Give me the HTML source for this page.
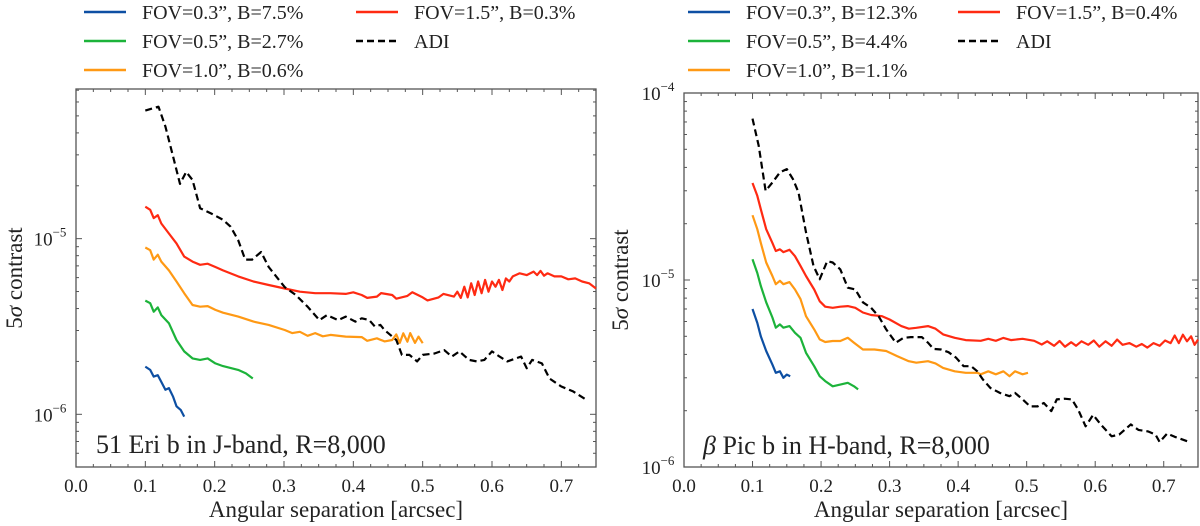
<!DOCTYPE html>
<html><head><meta charset="utf-8"><style>
html,body{margin:0;padding:0;background:#fff;}
svg{display:block;font-family:"Liberation Serif",serif;}
</style></head><body>
<svg id="chart" width="1200" height="526" viewBox="0 0 1200 526" xmlns="http://www.w3.org/2000/svg"></svg>
<script>
// ---- Left panel data (51 Eri b) ----
const L_adiX=[0.100,0.119,0.129,0.140,0.150,0.159,0.168,0.179,0.195,0.212,0.223,0.234,0.244,0.254,0.267,0.278,0.301,0.317,0.334,0.351,0.362,0.378,0.389,0.403,0.412,0.423,0.431,0.439,0.445,0.462,0.470,0.481,0.492,0.500,0.517,0.531,0.542,0.553,0.567,0.578,0.589,0.600,0.611,0.622,0.642,0.650,0.658,0.672,0.683,0.700,0.717,0.736];
const L_adiY=[5.36e-5,5.64e-5,4.35e-5,2.93e-5,2.05e-5,2.40e-5,2.16e-5,1.49e-5,1.39e-5,1.28e-5,1.17e-5,9.8e-6,7.6e-6,7.6e-6,8.4e-6,6.9e-6,5.3e-6,4.78e-6,4.1e-6,3.44e-6,3.67e-6,3.44e-6,3.6e-6,3.37e-6,3.52e-6,3.44e-6,3.16e-6,3.23e-6,3.02e-6,2.65e-6,2.18e-6,2.18e-6,2.0e-6,2.18e-6,2.22e-6,2.32e-6,2.13e-6,2.28e-6,2.04e-6,2.0e-6,2.04e-6,2.28e-6,2.13e-6,2.0e-6,2.13e-6,1.83e-6,2.04e-6,1.95e-6,1.60e-6,1.44e-6,1.35e-6,1.21e-6];
const L_redX=[0.100,0.107,0.112,0.118,0.123,0.134,0.145,0.156,0.168,0.179,0.190,0.201,0.212,0.234,0.256,0.278,0.301,0.323,0.345,0.367,0.389,0.400,0.412,0.420,0.434,0.440,0.456,0.462,0.478,0.485,0.500,0.507,0.523,0.530,0.545,0.550,0.555,0.560,0.565,0.570,0.575,0.580,0.585,0.590,0.595,0.600,0.605,0.610,0.615,0.620,0.625,0.630,0.640,0.650,0.660,0.665,0.670,0.675,0.680,0.690,0.700,0.710,0.720,0.730,0.740,0.750];
const L_redY=[1.52e-5,1.46e-5,1.31e-5,1.36e-5,1.22e-5,1.07e-5,9.4e-6,7.9e-6,7.4e-6,7.1e-6,7.2e-6,6.9e-6,6.6e-6,6.1e-6,5.7e-6,5.45e-6,5.2e-6,4.99e-6,4.89e-6,4.89e-6,4.85e-6,4.95e-6,4.78e-6,4.6e-6,4.68e-6,4.9e-6,4.78e-6,4.55e-6,4.72e-6,4.95e-6,4.63e-6,4.45e-6,4.63e-6,4.85e-6,4.68e-6,4.99e-6,4.6e-6,5.33e-6,4.63e-6,5.57e-6,4.78e-6,5.7e-6,4.89e-6,5.82e-6,4.99e-6,5.7e-6,5.33e-6,5.82e-6,5.1e-6,5.94e-6,5.7e-6,6.1e-6,6.35e-6,6.2e-6,6.49e-6,6.2e-6,6.55e-6,6.15e-6,6.35e-6,6.1e-6,6.1e-6,5.87e-6,5.94e-6,5.7e-6,5.57e-6,5.2e-6];
const L_oraX=[0.100,0.107,0.112,0.118,0.123,0.134,0.145,0.156,0.168,0.179,0.190,0.201,0.212,0.234,0.256,0.278,0.301,0.312,0.323,0.334,0.345,0.356,0.367,0.389,0.412,0.420,0.434,0.445,0.456,0.462,0.467,0.472,0.478,0.482,0.489,0.494,0.500];
const L_oraY=[8.9e-6,8.6e-6,7.6e-6,8.1e-6,7.4e-6,6.6e-6,5.7e-6,4.89e-6,4.19e-6,4.1e-6,4.13e-6,3.93e-6,3.79e-6,3.6e-6,3.37e-6,3.23e-6,3.02e-6,2.9e-6,2.95e-6,2.8e-6,2.9e-6,2.78e-6,2.83e-6,2.77e-6,2.75e-6,2.62e-6,2.71e-6,2.6e-6,2.65e-6,2.85e-6,2.55e-6,2.89e-6,2.59e-6,2.9e-6,2.55e-6,2.77e-6,2.54e-6];
const L_grnX=[0.100,0.107,0.112,0.118,0.123,0.134,0.145,0.156,0.168,0.179,0.190,0.201,0.212,0.234,0.245,0.255];
const L_grnY=[4.44e-6,4.29e-6,3.84e-6,4.06e-6,3.67e-6,3.3e-6,2.65e-6,2.28e-6,2.08e-6,2.04e-6,2.08e-6,1.95e-6,1.88e-6,1.79e-6,1.71e-6,1.60e-6];
const L_bluX=[0.100,0.107,0.112,0.118,0.123,0.129,0.134,0.140,0.145,0.151,0.156];
const L_bluY=[1.87e-6,1.79e-6,1.64e-6,1.67e-6,1.53e-6,1.38e-6,1.41e-6,1.26e-6,1.11e-6,1.06e-6,0.97e-6];
// ---- Right panel data (beta Pic b) ----
const R_adiX=[0.100,0.109,0.119,0.129,0.140,0.150,0.159,0.167,0.178,0.189,0.198,0.209,0.217,0.228,0.239,0.250,0.261,0.273,0.284,0.295,0.309,0.320,0.331,0.347,0.356,0.364,0.375,0.386,0.397,0.408,0.419,0.428,0.436,0.447,0.461,0.475,0.483,0.494,0.505,0.516,0.525,0.536,0.544,0.555,0.566,0.575,0.586,0.597,0.608,0.624,0.635,0.652,0.663,0.677,0.688,0.694,0.705,0.716,0.735];
const R_adiY=[7.3e-5,5.22e-5,3.0e-5,3.32e-5,3.76e-5,3.92e-5,3.46e-5,2.94e-5,1.8e-5,1.19e-5,1.01e-5,1.26e-5,1.24e-5,1.14e-5,9.1e-6,8.9e-6,7.6e-6,7.1e-6,6.4e-6,5.44e-6,4.62e-6,4.9e-6,4.95e-6,4.95e-6,4.62e-6,4.28e-6,4.25e-6,4.11e-6,3.84e-6,3.46e-6,3.46e-6,3.25e-6,2.94e-6,2.65e-6,2.49e-6,2.39e-6,2.49e-6,2.3e-6,2.11e-6,2.11e-6,2.2e-6,1.99e-6,2.3e-6,2.32e-6,2.3e-6,2.03e-6,1.65e-6,1.9e-6,1.69e-6,1.46e-6,1.49e-6,1.69e-6,1.58e-6,1.55e-6,1.49e-6,1.36e-6,1.51e-6,1.45e-6,1.37e-6];
const R_redX=[0.100,0.107,0.112,0.120,0.129,0.134,0.140,0.145,0.154,0.162,0.170,0.178,0.190,0.198,0.206,0.217,0.228,0.239,0.250,0.261,0.273,0.289,0.300,0.317,0.328,0.339,0.356,0.367,0.378,0.395,0.411,0.433,0.444,0.455,0.466,0.477,0.494,0.511,0.522,0.530,0.540,0.548,0.556,0.565,0.572,0.580,0.590,0.598,0.606,0.615,0.624,0.632,0.640,0.650,0.660,0.668,0.676,0.685,0.694,0.702,0.710,0.716,0.722,0.728,0.734,0.740,0.745,0.750];
const R_redY=[3.3e-5,2.82e-5,2.39e-5,1.87e-5,1.58e-5,1.43e-5,1.46e-5,1.41e-5,1.45e-5,1.34e-5,1.19e-5,1.05e-5,8.9e-6,7.7e-6,7.2e-6,7.1e-6,7.2e-6,7.25e-6,7.1e-6,6.7e-6,6.5e-6,6.4e-6,6.15e-6,5.67e-6,5.49e-6,5.55e-6,5.67e-6,5.49e-6,5.12e-6,4.91e-6,4.77e-6,4.73e-6,4.85e-6,4.73e-6,4.9e-6,4.77e-6,4.85e-6,4.73e-6,4.52e-6,4.7e-6,4.45e-6,4.72e-6,4.4e-6,4.65e-6,4.45e-6,4.7e-6,4.5e-6,4.75e-6,4.4e-6,4.7e-6,4.45e-6,4.8e-6,4.5e-6,4.6e-6,4.4e-6,4.55e-6,4.35e-6,4.6e-6,4.45e-6,4.75e-6,4.6e-6,5.05e-6,4.6e-6,5.1e-6,4.7e-6,5.0e-6,4.5e-6,4.8e-6];
const R_oraX=[0.100,0.107,0.112,0.120,0.129,0.134,0.140,0.145,0.154,0.162,0.170,0.178,0.190,0.198,0.206,0.217,0.228,0.239,0.248,0.261,0.278,0.295,0.311,0.328,0.339,0.356,0.367,0.378,0.395,0.411,0.428,0.433,0.444,0.455,0.466,0.475,0.483,0.494,0.502];
const R_oraY=[2.22e-5,1.87e-5,1.58e-5,1.24e-5,1.05e-5,9.5e-6,9.9e-6,9.5e-6,9.75e-6,8.9e-6,7.9e-6,6.4e-6,5.44e-6,4.81e-6,4.66e-6,4.72e-6,4.72e-6,4.91e-6,4.62e-6,4.25e-6,4.25e-6,4.17e-6,3.92e-6,3.68e-6,3.61e-6,3.68e-6,3.58e-6,3.39e-6,3.25e-6,3.19e-6,3.19e-6,3.13e-6,3.25e-6,3.13e-6,3.25e-6,3.06e-6,3.25e-6,3.13e-6,3.19e-6];
const R_grnX=[0.100,0.107,0.112,0.120,0.129,0.134,0.140,0.145,0.154,0.162,0.170,0.178,0.190,0.198,0.206,0.217,0.228,0.239,0.248,0.254];
const R_grnY=[1.29e-5,1.09e-5,9.3e-6,7.6e-6,6.3e-6,5.56e-6,5.79e-6,5.56e-6,5.67e-6,5.22e-6,4.91e-6,4.08e-6,3.46e-6,3.06e-6,2.88e-6,2.7e-6,2.76e-6,2.82e-6,2.7e-6,2.6e-6];
const R_bluX=[0.100,0.107,0.112,0.120,0.129,0.134,0.140,0.145,0.150,0.155];
const R_bluY=[7.0e-6,5.9e-6,5.0e-6,4.17e-6,3.53e-6,3.19e-6,3.25e-6,3.0e-6,3.12e-6,3.06e-6];
const xTicks=[0.0,0.1,0.2,0.3,0.4,0.5,0.6,0.7];
const L_legend=["FOV=0.3”, B=7.5%","FOV=0.5”, B=2.7%","FOV=1.0”, B=0.6%","FOV=1.5”, B=0.3%","ADI"];
const R_legend=["FOV=0.3”, B=12.3%","FOV=0.5”, B=4.4%","FOV=1.0”, B=1.1%","FOV=1.5”, B=0.4%","ADI"];

const NS="http://www.w3.org/2000/svg";
const svg=document.getElementById('chart');
const COL={blue:"#0d4fa3",green:"#1cb33a",orange:"#ff9914",red:"#ff2a12",adi:"#000"};
function mk(tag,attrs,parent){const e=document.createElementNS(NS,tag);for(const k in attrs)e.setAttribute(k,attrs[k]);(parent||svg).appendChild(e);return e;}

function panel(p){
  const g=mk('g',{});
  
  
  const xs=v=>p.x0+(v/0.75)*(p.x1-p.x0);
  const ys=v=>p.y1-(Math.log10(v)-p.lmin)/(p.lmax-p.lmin)*(p.y1-p.y0);
  // frame
  const fr=mk('rect',{x:p.x0,y:p.y0,width:p.x1-p.x0,height:p.y1-p.y0,fill:'none',stroke:'#555',"stroke-width":1.3},g);
  
  
  // x ticks
  for(let i=0;i<=30;i++){const v=i*0.025;if(v>0.75)break;const X=xs(v);const major=i%4===0;const len=major?6:3;
    mk('line',{x1:X,x2:X,y1:p.y1,y2:p.y1-len,stroke:'#555'},g);mk('line',{x1:X,x2:X,y1:p.y0,y2:p.y0+len,stroke:'#555'},g);}
  xTicks.forEach(v=>{const t=mk('text',{x:xs(v),y:p.y1+25,"font-size":19,"text-anchor":"middle",fill:'#222'},g);t.textContent=v.toFixed(1);
    
    });
  // y ticks
  for(let d=Math.floor(p.lmin);d<=Math.ceil(p.lmax);d++){for(let m=1;m<10;m++){const lv=d+Math.log10(m);if(lv<p.lmin-1e-6||lv>p.lmax+1e-6)continue;const Y=ys(Math.pow(10,lv));const len=m===1?6:3;
    mk('line',{x1:p.x0,x2:p.x0+len,y1:Y,y2:Y,stroke:'#555'},g);mk('line',{x1:p.x1,x2:p.x1-len,y1:Y,y2:Y,stroke:'#555'},g);
    if(m===1){const t=mk('text',{x:p.x0-26,y:Y+7,"font-size":19,"text-anchor":"middle",fill:'#222'},g);t.textContent='10';const s=mk('tspan',{dy:-9,"font-size":13},t);s.textContent='−'+(-d);
      
      }}}
  // series
  const series=[[p.blu[0],p.blu[1],COL.blue,'fov-0.3-line',false],[p.grn[0],p.grn[1],COL.green,'fov-0.5-line',false],[p.ora[0],p.ora[1],COL.orange,'fov-1.0-line',false],[p.red[0],p.red[1],COL.red,'fov-1.5-line',false],[p.adi[0],p.adi[1],COL.adi,'adi-line',true]];
  series.forEach(s=>{const d=s[0].map((x,i)=>(i?'L':'M')+xs(x).toFixed(1)+','+ys(s[1][i]).toFixed(1)).join('');
    const a={d:d,fill:'none',stroke:s[2],"stroke-width":2.2,"stroke-linejoin":"round"};if(s[4])a["stroke-dasharray"]="7,4";
    const path=mk('path',a,g);
    
    });
  // axis titles
  const xt=mk('text',{x:(p.x0+p.x1)/2,y:p.y1+50,"font-size":23,"text-anchor":"middle",fill:'#222'},g);xt.textContent='Angular separation [arcsec]';
  
  
  const yt=mk('text',{x:0,y:0,"font-size":23,"text-anchor":"middle",fill:'#222',transform:`translate(${p.yTitleX},${(p.y0+p.y1)/2}) rotate(-90)`},g);yt.innerHTML='5<tspan font-style="italic">σ</tspan> contrast';
  
  
  const an=mk('text',{x:p.annX,y:p.annY,"font-size":26,fill:'#222'},g);an.innerHTML=p.ann;
  
  
  // legend
  const cols=[COL.blue,COL.green,COL.orange,COL.red,COL.adi];
  const pos=[[0,0],[0,1],[0,2],[1,0],[1,1]];
  p.leg.forEach((lab,i)=>{const cx=p.legX[pos[i][0]],cy=12+pos[i][1]*29;
    const lg=mk('g',{},g);
    
    
    const la={x1:cx,x2:cx+42,y1:cy,y2:cy,stroke:cols[i],"stroke-width":2.5};if(i===4)la["stroke-dasharray"]="7,4";mk('line',la,lg);
    const t=mk('text',{x:cx+58,y:cy+7,"font-size":20,fill:'#222'},lg);t.textContent=lab;});
}
panel({id:'left',x0:76,x1:596,y0:89,y1:467,lmin:-6.3,lmax:-4.148,blu:[L_bluX,L_bluY],grn:[L_grnX,L_grnY],ora:[L_oraX,L_oraY],red:[L_redX,L_redY],adi:[L_adiX,L_adiY],yTitleX:22,annX:96,annY:453,ann:'51 Eri b in J-band, R=8,000',leg:L_legend,legX:[84,356]});
panel({id:'right',x0:684,x1:1198,y0:93,y1:467,lmin:-6,lmax:-4,blu:[R_bluX,R_bluY],grn:[R_grnX,R_grnY],ora:[R_oraX,R_oraY],red:[R_redX,R_redY],adi:[R_adiX,R_adiY],yTitleX:628,annX:703,annY:454,ann:'<tspan font-style="italic">β</tspan> Pic b in H-band, R=8,000',leg:R_legend,legX:[688,958]});
</script>
</body></html>
